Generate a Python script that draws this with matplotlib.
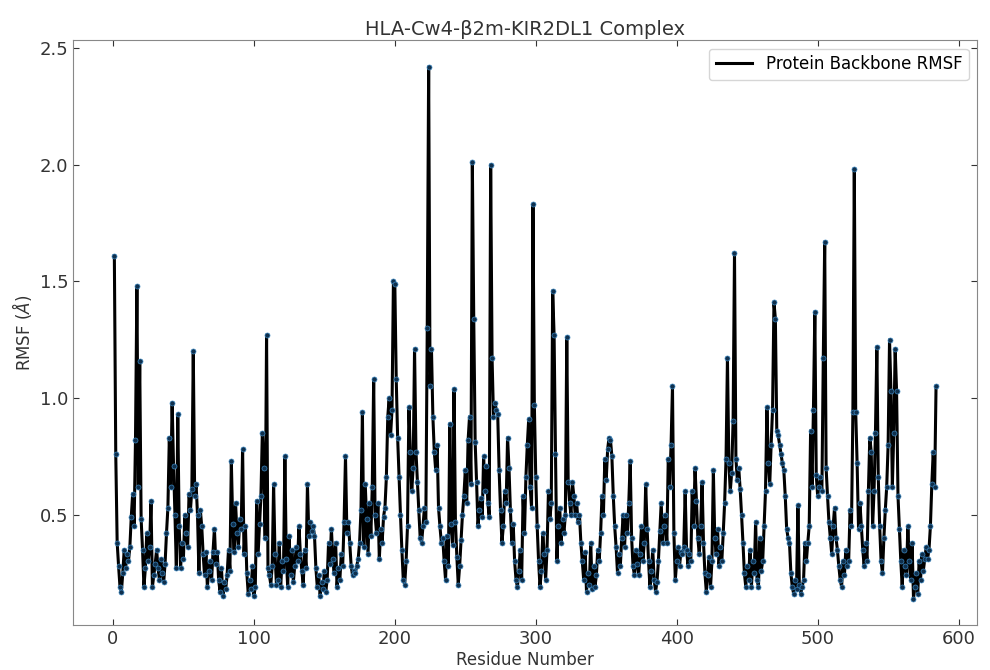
import numpy as np
import matplotlib
matplotlib.use("Agg")
import matplotlib.pyplot as plt

# Backbone RMSF per residue
rmsf = [
    1.61, 0.76, 0.38, 0.28, 0.19, 0.17, 0.25, 0.35, 0.27, 0.33,
    0.30, 0.36, 0.49, 0.59, 0.45, 0.82, 1.48, 0.62, 1.16, 0.48,
    0.35, 0.19, 0.27, 0.42, 0.30, 0.36, 0.56, 0.19, 0.24, 0.29,
    0.35, 0.27, 0.22, 0.31, 0.25, 0.21, 0.29, 0.42, 0.53, 0.83,
    0.62, 0.98, 0.71, 0.50, 0.27, 0.93, 0.45, 0.27, 0.38, 0.31,
    0.50, 0.42, 0.36, 0.59, 0.52, 0.61, 1.20, 0.58, 0.63, 0.50,
    0.25, 0.52, 0.45, 0.33, 0.24, 0.34, 0.19, 0.26, 0.30, 0.22,
    0.34, 0.44, 0.29, 0.34, 0.22, 0.17, 0.27, 0.15, 0.21, 0.18,
    0.24, 0.35, 0.26, 0.73, 0.46, 0.34, 0.55, 0.42, 0.36, 0.48,
    0.44, 0.78, 0.33, 0.45, 0.25, 0.16, 0.22, 0.18, 0.28, 0.15,
    0.19, 0.56, 0.33, 0.46, 0.58, 0.85, 0.70, 0.40, 1.27, 0.27,
    0.24, 0.20, 0.28, 0.63, 0.33, 0.20, 0.22, 0.38, 0.19, 0.30,
    0.26, 0.75, 0.31, 0.19, 0.41, 0.24, 0.35, 0.21, 0.28, 0.36,
    0.30, 0.45, 0.33, 0.26, 0.20, 0.35, 0.27, 0.63, 0.41, 0.47,
    0.43, 0.45, 0.41, 0.27, 0.19, 0.24, 0.15, 0.21, 0.18, 0.26,
    0.17, 0.22, 0.38, 0.29, 0.44, 0.31, 0.25, 0.38, 0.19, 0.27,
    0.22, 0.33, 0.28, 0.47, 0.75, 0.42, 0.47, 0.38, 0.28, 0.24,
    0.26, 0.25, 0.28, 0.31, 0.38, 0.52, 0.94, 0.36, 0.63, 0.48,
    0.33, 0.55, 0.41, 0.62, 1.08, 0.50, 0.42, 0.55, 0.31, 0.44,
    0.38, 0.49, 0.53, 0.66, 0.92, 1.00, 0.84, 0.95, 1.50, 1.49,
    1.08, 0.83, 0.66, 0.50, 0.35, 0.22, 0.20, 0.30, 0.45, 0.96,
    0.77, 0.60, 0.70, 1.21, 0.77, 0.64, 0.52, 0.40, 0.38, 0.45,
    0.53, 0.47, 1.30, 2.42, 1.05, 1.21, 0.92, 0.77, 0.69, 0.80,
    0.53, 0.45, 0.38, 0.40, 0.30, 0.22, 0.41, 0.28, 0.89, 0.46,
    0.37, 1.04, 0.47, 0.32, 0.20, 0.28, 0.39, 0.50, 0.58, 0.69,
    0.55, 0.82, 0.92, 0.63, 2.01, 1.34, 0.81, 0.64, 0.45, 0.52,
    0.57, 0.49, 0.75, 0.60, 0.71, 0.55, 0.49, 2.00, 1.17, 0.92,
    0.98, 0.95, 0.93, 0.69, 0.52, 0.38, 0.45, 0.60, 0.55, 0.83,
    0.70, 0.52, 0.38, 0.46, 0.30, 0.22, 0.19, 0.26, 0.35, 0.22,
    0.58, 0.42, 0.66, 0.80, 0.91, 0.62, 0.53, 1.83, 0.97, 0.66,
    0.45, 0.30, 0.19, 0.26, 0.42, 0.33, 0.22, 0.35, 0.60, 0.48,
    0.55, 1.46, 1.27, 0.76, 0.30, 0.45, 0.53, 0.38, 0.48, 0.42,
    0.50, 1.26, 0.64, 0.55, 0.50, 0.64, 0.58, 0.50, 0.55, 0.47,
    0.50, 0.38, 0.30, 0.22, 0.34, 0.17, 0.25, 0.20, 0.38, 0.18,
    0.28, 0.19, 0.24, 0.35, 0.30, 0.42, 0.58, 0.50, 0.74, 0.65,
    0.78, 0.83, 0.82, 0.75, 0.58, 0.45, 0.36, 0.25, 0.33, 0.28,
    0.40, 0.50, 0.36, 0.50, 0.42, 0.55, 0.73, 0.40, 0.28, 0.24,
    0.35, 0.29, 0.24, 0.33, 0.45, 0.30, 0.38, 0.63, 0.44, 0.30,
    0.19, 0.26, 0.35, 0.22, 0.17, 0.21, 0.30, 0.43, 0.55, 0.38,
    0.45, 0.50, 0.38, 0.74, 0.62, 0.80, 1.05, 0.42, 0.22, 0.30,
    0.36, 0.28, 0.34, 0.33, 0.36, 0.60, 0.35, 0.28, 0.33, 0.30,
    0.60, 0.45, 0.70, 0.56, 0.40, 0.33, 0.45, 0.64, 0.38, 0.25,
    0.17, 0.24, 0.32, 0.19, 0.30, 0.69, 0.40, 0.33, 0.44, 0.28,
    0.36, 0.30, 0.42, 0.55, 0.74, 1.17, 0.72, 0.60, 0.68, 0.90,
    1.62, 0.74, 0.65, 0.70, 0.61, 0.50, 0.38, 0.25, 0.19, 0.28,
    0.22, 0.35, 0.19, 0.30, 0.25, 0.47, 0.22, 0.19, 0.40, 0.26,
    0.30, 0.45, 0.60, 0.96, 0.72, 0.63, 0.80, 0.95, 1.41, 1.34,
    0.86, 0.84, 0.80, 0.76, 0.72, 0.69, 0.58, 0.44, 0.40, 0.38,
    0.25, 0.19, 0.16, 0.22, 0.18, 0.54, 0.20, 0.16, 0.19, 0.22,
    0.38, 0.30, 0.38, 0.45, 0.86, 0.62, 0.95, 1.37, 0.67, 0.58,
    0.62, 0.66, 0.60, 1.17, 1.67, 0.70, 0.58, 0.47, 0.40, 0.33,
    0.45, 0.53, 0.40, 0.35, 0.28, 0.22, 0.19, 0.30, 0.24, 0.35,
    0.28, 0.30, 0.52, 0.45, 0.94, 1.98, 0.94, 0.72, 0.44, 0.55,
    0.45, 0.35, 0.28, 0.38, 0.30, 0.60, 0.83, 0.77, 0.45, 0.60,
    0.85, 1.22, 0.66, 0.45, 0.30, 0.25, 0.40, 0.52, 0.62, 0.80,
    1.25, 1.03, 0.62, 0.85, 1.21, 1.03, 0.58, 0.44, 0.30, 0.19,
    0.35, 0.28, 0.24, 0.45, 0.30, 0.22, 0.38, 0.14, 0.19, 0.25,
    0.16, 0.30, 0.22, 0.33, 0.26, 0.31, 0.36, 0.31, 0.35, 0.45,
    0.63, 0.77, 0.62, 1.05,
]
residues = np.arange(1, len(rmsf) + 1)

fig = plt.figure(figsize=(9.9, 6.7), dpi=100)
ax = fig.add_axes([0.074, 0.067, 0.913, 0.873])

ax.plot(residues, rmsf, color='black', lw=2.2, zorder=3,
        label='Protein Backbone RMSF')
ax.scatter(residues, rmsf, s=13, c='#10304d', edgecolors='#3a86c0',
           linewidths=0.5, zorder=4)

ax.set_title('HLA-Cw4-β2m-KIR2DL1 Complex', fontsize=14, color='#333333', pad=4)
ax.set_xlabel('Residue Number', fontsize=12, color='#333333', labelpad=2)
ax.set_ylabel(r'RMSF ($\AA$)', fontsize=12, color='#333333')
ax.set_xticks([0, 100, 200, 300, 400, 500, 600])
ax.set_yticks([0.5, 1.0, 1.5, 2.0, 2.5])
ax.tick_params(direction='in', top=True, right=True, labelsize=13,
               colors='#333333', length=4)
for s in ax.spines.values():
    s.set_color('#888888')

ax.legend(loc='upper right', fontsize=12, frameon=True, handlelength=2.2)

fig.savefig('out.png', dpi=100)
